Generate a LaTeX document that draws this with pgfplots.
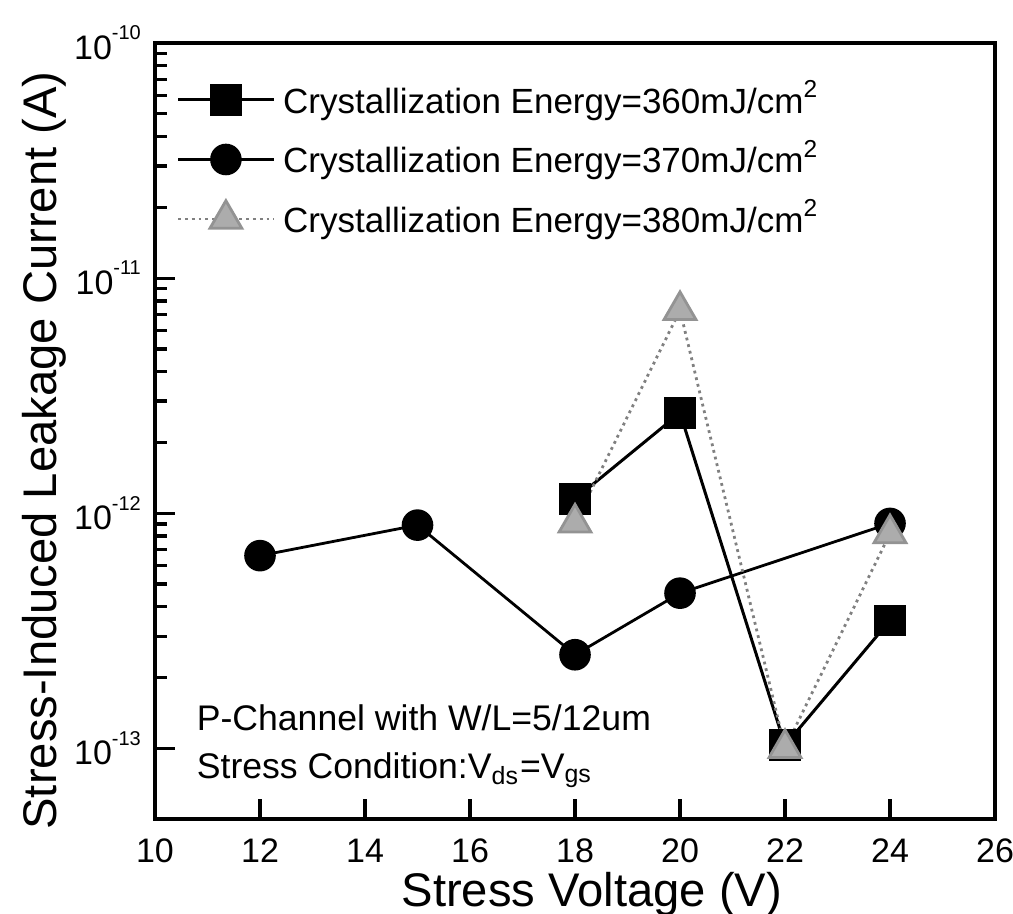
\documentclass[border=0pt]{standalone}
\usepackage{pgfplots}
\pgfplotsset{compat=1.18}
\usepackage{fontspec}
\setmainfont{Liberation Sans}
\setsansfont{Liberation Sans}
\newcommand{\ex}[1]{\raisebox{1.1ex}{\fontsize{5}{6}\selectfont #1}}
\begin{document}
\begin{tikzpicture}
\begin{axis}[
  scale only axis,
  width=210pt, height=194pt,
  xmin=10, xmax=26, ymin=5e-14, ymax=1e-10,
  ymode=log,
  xtick={10,12,...,26},
  ytick={1e-13,1e-12,1e-11,1e-10},
  yticklabels={10\ex{-13},10\ex{-12},10\ex{-11},10\ex{-10}},
  tick align=inside,
  xtick pos=bottom,
  ytick pos=left,
  major tick length=5pt,
  minor tick length=3pt,
  axis line style={line width=1.2pt},
  every tick/.style={black, line width=0.8pt},
  /pgf/number format/assume math mode=true,
  tick label style={font=\fontsize{8.5}{10}\selectfont},
  xticklabel style={yshift=-1.5pt},
  yticklabel style={xshift=0pt},
  xlabel={Stress Voltage (V)},
  ylabel={Stress-Induced Leakage Current (A)},
  label style={font=\fontsize{11.8}{14}\selectfont},
  xlabel style={at={(axis description cs:0.52,-0.097)}, anchor=center},
  ylabel style={at={(axis description cs:-0.132,0.475)}, anchor=center},
  legend style={draw=none, fill=none, at={(0.02,0.968)}, anchor=north west,
    font=\fontsize{8.75}{10}\selectfont, row sep=1.3pt, inner sep=1pt},
  legend cell align=left,
  legend image code/.code={\draw[mark repeat=2,mark phase=2,#1] plot coordinates {(0cm,0cm) (0.42cm,0cm) (0.84cm,0cm)};},
]
\addplot[black, line width=0.75pt, mark=square*, mark size=3.6pt, mark options={solid}]
  coordinates {(18,1.15e-12) (20,2.67e-12) (22,1.03e-13) (24,3.5e-13)};
\addlegendentry{Crystallization Energy=360mJ/cm\textsuperscript{2}}
\addplot[black, line width=0.7pt, mark=*, mark size=3.6pt, mark options={solid}]
  coordinates {(12,6.6e-13) (15,8.9e-13) (18,2.5e-13) (20,4.57e-13) (24,9.05e-13)};
\addlegendentry{Crystallization Energy=370mJ/cm\textsuperscript{2}}
\addplot[gray, densely dotted, line width=0.7pt, mark=triangle*, mark size=4.6pt,
  mark options={solid, fill=gray!65, draw=gray!85}]
  coordinates {(18,9.1e-13) (20,7.3e-12) (22,1.0e-13) (24,8.2e-13)};
\addlegendentry{Crystallization Energy=380mJ/cm\textsuperscript{2}}
\node[anchor=west, font=\fontsize{8.9}{10}\selectfont] at (rel axis cs:0.033,0.13) {P-Channel with W/L=5/12um};
\node[anchor=west, font=\fontsize{8.9}{10}\selectfont] at (rel axis cs:0.033,0.063) {Stress Condition:V\textsubscript{ds}=V\textsubscript{gs}};
\end{axis}
\pgfresetboundingbox
\path[use as bounding box] ([shift={(-38.75pt,-23.5pt)}]current axis.south west) rectangle ([shift={(4.5pt,10.75pt)}]current axis.north east);
\end{tikzpicture}
\end{document}
